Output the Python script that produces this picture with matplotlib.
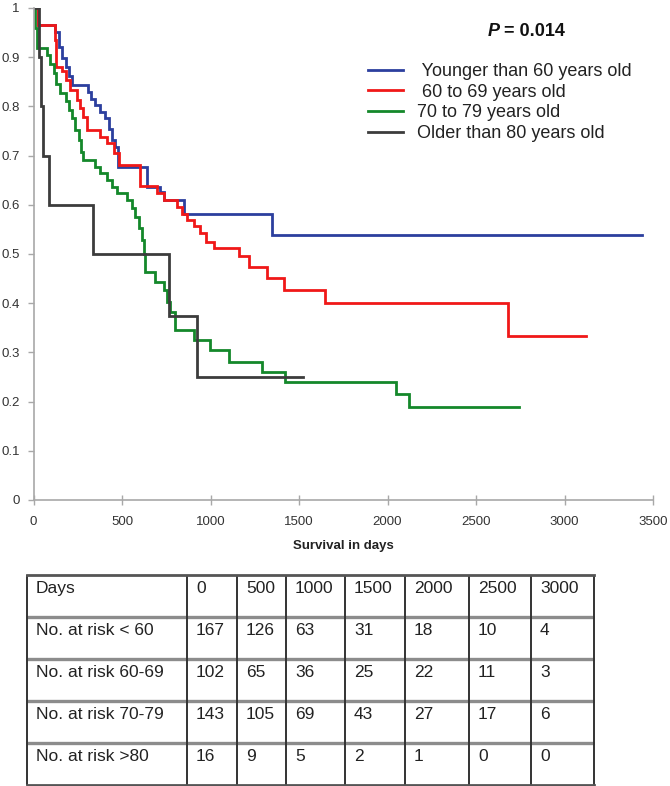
import matplotlib
matplotlib.use("Agg")
import matplotlib.pyplot as plt

plt.rcParams['font.family'] = ['Liberation Sans', 'DejaVu Sans']

# ---------------- data ----------------
t_lt60 = [0, 24, 124, 143, 162, 181, 199, 218, 307, 325, 350, 378, 406, 425, 444, 463, 476,
          641, 717, 735, 848, 1349, 3437]
s_lt60 = [1.0, 0.965, 0.952, 0.921, 0.898, 0.881, 0.861, 0.843, 0.830, 0.816, 0.803, 0.789,
          0.776, 0.755, 0.732, 0.718, 0.677, 0.636, 0.626, 0.610, 0.582, 0.539, 0.539]

t_60_69 = [0, 24, 121, 128, 162, 181, 209, 243, 264, 282, 301, 378, 416, 453, 482, 603, 697,
           735, 810, 838, 866, 904, 941, 975, 1020, 1159, 1215, 1319, 1413, 1648, 2681, 3121]
s_60_69 = [1.0, 0.965, 0.935, 0.881, 0.871, 0.854, 0.833, 0.813, 0.796, 0.779, 0.752, 0.738,
           0.725, 0.705, 0.681, 0.638, 0.623, 0.610, 0.596, 0.582, 0.569, 0.556, 0.542, 0.525,
           0.512, 0.495, 0.474, 0.451, 0.427, 0.400, 0.334, 0.334]

t_70_79 = [0, 6, 19, 75, 94, 113, 128, 150, 181, 199, 218, 237, 256, 269, 280, 350, 378, 416,
           444, 472, 529, 557, 576, 594, 613, 626, 632, 688, 735, 754, 773, 801, 905, 999, 1102,
           1290, 1422, 2047, 2122, 2743]
s_70_79 = [1.0, 0.96, 0.918, 0.904, 0.887, 0.867, 0.846, 0.827, 0.810, 0.793, 0.776, 0.752,
           0.732, 0.708, 0.691, 0.677, 0.664, 0.650, 0.637, 0.623, 0.610, 0.593, 0.576, 0.553,
           0.528, 0.501, 0.464, 0.444, 0.427, 0.403, 0.383, 0.346, 0.325, 0.305, 0.281, 0.261,
           0.240, 0.215, 0.190, 0.190]

t_gt80 = [0, 32, 43, 54, 86, 335, 767, 924, 1525]
s_gt80 = [1.0, 0.9, 0.8, 0.7, 0.6, 0.5, 0.375, 0.25, 0.25]

labels = [" Younger than 60 years old", " 60 to 69 years old", "70 to 79 years old",
          "Older than 80 years old"]
colors = ["#2c3f9e", "#f01818", "#14882a", "#3c3c3c"]

x_ticks = [0, 500, 1000, 1500, 2000, 2500, 3000, 3500]
y_ticks = [0, 0.1, 0.2, 0.3, 0.4, 0.5, 0.6, 0.7, 0.8, 0.9, 1]
y_tick_labels = ["0", "0.1", "0.2", "0.3", "0.4", "0.5", "0.6", "0.7", "0.8", "0.9", "1"]

p_text = "P"
p_value = " = 0.014"
x_label = "Survival in days"

table_header = ["Days", "0", "500", "1000", "1500", "2000", "2500", "3000"]
row_labels = ["No. at risk < 60", "No. at risk 60-69", "No. at risk 70-79", "No. at risk >80"]
risk_lt60 = [167, 126, 63, 31, 18, 10, 4]
risk_60_69 = [102, 65, 36, 25, 22, 11, 3]
risk_70_79 = [143, 105, 69, 43, 27, 17, 6]
risk_gt80 = [16, 9, 5, 2, 1, 0, 0]

# ---------------- figure ----------------
W, H = 670, 786
fig = plt.figure(figsize=(W / 100, H / 100), dpi=100)

ax_l, ax_r, ax_t, ax_b = 33.5, 653, 8, 500
ax = fig.add_axes([ax_l / W, 1 - ax_b / H, (ax_r - ax_l) / W, (ax_b - ax_t) / H])

series = [(t_lt60, s_lt60), (t_60_69, s_60_69), (t_70_79, s_70_79), (t_gt80, s_gt80)]
for (t, s), c, lab in zip(series, colors, labels):
    ax.step(t, s, where="post", color=c, lw=2.0, label=lab, solid_joinstyle="miter")

ax.set_xlim(0, 3500)
ax.set_ylim(0, 1)
for side in ["top", "right"]:
    ax.spines[side].set_visible(False)
for side in ["left", "bottom"]:
    ax.spines[side].set_color("#a8a8a8")
    ax.spines[side].set_linewidth(1.2)
ax.set_xticks(x_ticks)
ax.set_xticklabels([str(v) for v in x_ticks])
ax.set_yticks(y_ticks)
ax.set_yticklabels(y_tick_labels)
ax.tick_params(axis="x", direction="inout", length=7, width=1, color="#a8a8a8",
               labelsize=9.5, labelcolor="#333333", pad=8)
ax.tick_params(axis="y", direction="out", length=4, width=1, color="#a8a8a8",
               labelsize=9.5, labelcolor="#333333", pad=6)
ax.set_xlabel(x_label, fontsize=9.5, fontweight="bold", color="#222222", labelpad=9)

leg = ax.legend(loc="upper left", bbox_to_anchor=(368 / W, 1 - 63 / H),
                bbox_transform=fig.transFigure, frameon=False, fontsize=13,
                handlelength=1.95, handletextpad=0.75, labelspacing=0.2,
                borderpad=0, borderaxespad=0)
for txt in leg.get_texts():
    txt.set_color("#222222")

fig.text(488 / W, 1 - 32 / H, p_text, fontsize=13, fontweight="bold", fontstyle="italic",
         va="center", ha="left", color="#111111")
fig.text(499 / W, 1 - 32 / H, p_value, fontsize=13, fontweight="bold",
         va="center", ha="left", color="#111111")

# ---------------- risk table ----------------
tb_l, tb_r, tb_t, tb_b = 27, 594, 575, 785
col_edges_px = [27, 187, 237, 286, 345, 405, 469, 531, 594]
tax = fig.add_axes([tb_l / W, 1 - tb_b / H, (tb_r - tb_l) / W, (tb_b - tb_t) / H])
tax.set_xlim(tb_l, tb_r)
tax.set_ylim(5, 0)
tax.axis("off")

rows = [table_header] + [[lab] + [str(v) for v in vals] for lab, vals in
                         zip(row_labels, [risk_lt60, risk_60_69, risk_70_79, risk_gt80])]
for i, row in enumerate(rows):
    for j, cell in enumerate(row):
        tax.text(col_edges_px[j] + 9, i + 0.43, cell, fontsize=12.5, color="#222222",
                 ha="left", va="baseline")

for i in range(1, 5):
    tax.plot([tb_l, tb_r], [i, i], color="#8c8c8c", lw=2.4, clip_on=False,
             solid_capstyle="butt")
for x in col_edges_px:
    tax.plot([x, x], [0, 5], color="#333333", lw=1.4, clip_on=False, solid_capstyle="butt")
tax.plot([tb_l, tb_r], [0, 0], color="#555555", lw=2.0, clip_on=False)
tax.plot([tb_l, tb_r], [5, 5], color="#555555", lw=2.0, clip_on=False)

fig.savefig("out.png", dpi=100)
